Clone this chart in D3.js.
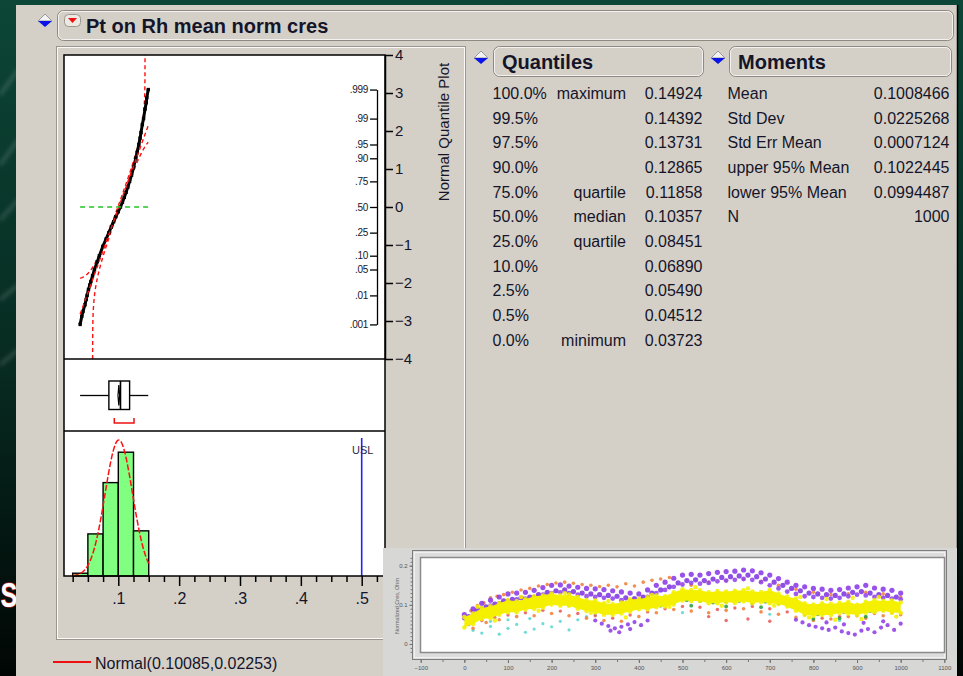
<!DOCTYPE html>
<html>
<head>
<meta charset="utf-8">
<script src="https://cdn.jsdelivr.net/npm/d3@7"></script>
<style>
  html, body { margin: 0; padding: 0; background: #062a22; overflow: hidden; }
  svg { display: block; }
</style>
</head>
<body>
<svg id="chart" width="963" height="676"></svg>
<script>
// ---------- Distribution summary: Pt on Rh mean norm cres ----------
const fitMean = 0.10085;
const fitSd = 0.02253;
const nObs = 1000;
const lillieforsD = 0.028;           // 95% band half-width used for the quantile plot
const uslValue = 0.5;

// Histogram bins and counts
const binEdges = [0.025, 0.05, 0.075, 0.1, 0.125, 0.15];
const binCounts = [9, 137, 304, 403, 147];

// Quantiles table
const quantileLevels = ["100.0%", "99.5%", "97.5%", "90.0%", "75.0%", "50.0%", "25.0%", "10.0%", "2.5%", "0.5%", "0.0%"];
const quantileNames  = ["maximum", "", "", "", "quartile", "median", "quartile", "", "", "", "minimum"];
const quantileValues = [0.14924, 0.14392, 0.13731, 0.12865, 0.11858, 0.10357, 0.08451, 0.06890, 0.05490, 0.04512, 0.03723];

// Moments table
const momentNames  = ["Mean", "Std Dev", "Std Err Mean", "upper 95% Mean", "lower 95% Mean", "N"];
const momentValues = [0.1008466, 0.0225268, 0.0007124, 0.1022445, 0.0994487, 1000];

// Ordered data for the normal quantile plot (cumulative probability, value)
const qpProb  = [0.001, 0.002, 0.003, 0.005, 0.0075, 0.01, 0.015, 0.02, 0.025, 0.035, 0.05, 0.075, 0.1, 0.15, 0.2, 0.25, 0.3, 0.35, 0.4, 0.45, 0.5,
                 0.55, 0.6, 0.65, 0.7, 0.75, 0.8, 0.85, 0.9, 0.925, 0.95, 0.965, 0.975, 0.985, 0.99, 0.995, 0.997, 0.998, 0.999];
const qpValue = [0.03723, 0.0400, 0.0420, 0.04512, 0.0472, 0.0487, 0.0510, 0.0531, 0.05490, 0.0577, 0.0608, 0.0654, 0.06890, 0.0746, 0.0800, 0.08451,
                 0.0885, 0.0924, 0.0960, 0.0998, 0.10357, 0.1068, 0.1098, 0.1128, 0.1157, 0.11858, 0.1218, 0.1250, 0.12865, 0.1310, 0.1337, 0.1358,
                 0.13731, 0.1395, 0.1415, 0.14392, 0.1460, 0.1468, 0.14924];

// Shortest half interval of the box plot
const shortestHalf = [0.0934, 0.1258];

// Axis ticks
const zTicks = [-4, -3, -2, -1, 0, 1, 2, 3, 4];
const probTicks  = [0.001, 0.01, 0.05, 0.10, 0.25, 0.50, 0.75, 0.90, 0.95, 0.99, 0.999];
const probLabels = [".001", ".01", ".05", ".10", ".25", ".50", ".75", ".90", ".95", ".99", ".999"];
const histMajorTicks  = [0.1, 0.2, 0.3, 0.4, 0.5];
const histMajorLabels = [".1", ".2", ".3", ".4", ".5"];
const histMinorTicks  = [0.025, 0.05, 0.075, 0.125, 0.15, 0.175, 0.225, 0.25, 0.275, 0.325, 0.35, 0.375, 0.425, 0.45, 0.475, 0.525];

// ---------- Run chart thumbnail (normalized Cres vs sample) ----------
const insetXTicks = [-100, 0, 100, 200, 300, 400, 500, 600, 700, 800, 900, 1000, 1100];
const insetYTicks = [0, 0.1, 0.2];
const insetX  = [0,20,40,60,80,100,120,140,160,180,200,220,240,260,280,300,320,340,360,380,400,420,440,460,480,500,
                 520,540,560,580,600,620,640,660,680,700,720,740,760,780,800,820,840,860,880,900,920,940,960,980,1000];
const insetXB = [10,30,50,70,90,110,130,150,170,190,210,230,250,270,290,310,330,350,370,390,410,430,450,470,490,
                 510,530,550,570,590,610,630,650,670,690,710,730,750,770,790,810,830,850,870,890,910,930,950,970,990];
const yellowHi = [.069,.078,.092,.096,.104,.112,.109,.114,.122,.124,.129,.124,.126,.120,.112,.111,.104,.102,.106,.114,.115,.119,.124,.122,.132,.140,
                  .138,.137,.132,.135,.134,.136,.137,.134,.133,.138,.129,.121,.116,.104,.101,.104,.103,.105,.108,.100,.108,.112,.110,.111,.106];
const yellowLo = [.042,.051,.064,.066,.075,.081,.081,.088,.090,.093,.101,.098,.098,.090,.084,.081,.075,.075,.078,.083,.089,.088,.094,.096,.101,.111,
                  .110,.110,.104,.104,.107,.105,.109,.104,.107,.104,.102,.096,.085,.075,.072,.074,.074,.079,.077,.074,.080,.081,.085,.080,.080];
const yellowSpikes = [[30,.095],[70,.060],[130,.120],[170,.085],[230,.130],[290,.080],[330,.110],[370,.068],[430,.125],[470,.095],[530,.145],
                      [590,.098],[650,.142],[710,.098],[770,.120],[790,.068],[830,.115],[850,.062],[890,.118],[910,.064],[950,.120],[990,.070]];
const purpleHi = [.075,.090,.104,.112,.120,.128,.130,.132,.137,.144,.150,.151,.148,.145,.142,.141,.139,.136,.133,.130,.128,.138,.150,.158,.168,.176,
                  .178,.176,.180,.183,.185,.186,.189,.187,.182,.176,.167,.158,.150,.146,.142,.140,.137,.139,.143,.146,.150,.143,.140,.137,.130];
const purpleMid = [.070,.088,.095,.102,.110,.114,.118,.120,.126,.132,.136,.138,.134,.130,.128,.126,.124,.122,.118,.116,.120,.130,.138,.146,.156,
                   .162,.164,.162,.166,.170,.172,.174,.176,.172,.166,.158,.150,.142,.136,.130,.128,.126,.124,.128,.132,.134,.130,.126,.124,.120];
const purpleInner = [.066,.082,.090,.098,.104,.110,.114,.116,.120,.126,.130,.132,.130,.126,.122,.120,.118,.116,.112,.110,.112,.120,.130,.138,.146,.152,
                     .156,.154,.156,.160,.162,.164,.166,.164,.158,.150,.142,.134,.128,.122,.120,.118,.116,.118,.122,.126,.124,.120,.118,.116,.114];
const purpleLow = [[300,.060],[315,.052],[330,.046],[345,.040],[360,.044],[375,.050],[390,.056],[405,.048],[420,.060],[335,.034],[355,.030],[380,.038],
                   [760,.062],[775,.055],[790,.048],[805,.044],[820,.040],[835,.036],[850,.042],[865,.032],[880,.028],[895,.024],[910,.034],[925,.038],
                   [940,.030],[955,.042],[970,.048],[985,.036],[1000,.052],[830,.055],[870,.050],[915,.054],[960,.058]];
const orangePts = [[0,.068],[15,.085],[30,.098],[45,.105],[60,.118],[75,.122],[90,.126],[110,.132],[130,.138],[150,.142],[170,.148],[190,.152],
                   [210,.156],[230,.158],[250,.155],[270,.152],[290,.150],[310,.147],[330,.150],[350,.146],[370,.154],[390,.148],[410,.158],[430,.163],
                   [450,.166],[470,.170],[520,.150],[560,.158],[600,.162],[640,.166],[680,.160],[720,.150],[760,.140],[800,.132],[840,.126],[880,.128],
                   [920,.132],[960,.128],[1000,.120],[20,.040],[50,.055],[80,.062],[120,.070],[160,.072],[200,.078],[240,.072],[280,.066],[320,.060],
                   [360,.058],[400,.070],[440,.080],[480,.088],[520,.084],[560,.080],[600,.086],[640,.090],[680,.082],[720,.076],[760,.068],[800,.060],
                   [840,.064],[880,.070],[920,.066],[960,.072],[1000,.075]];
const redPts = [[10,.050],[40,.060],[70,.068],[100,.074],[140,.080],[180,.086],[220,.084],[260,.078],[300,.072],[340,.066],[380,.074],[420,.082],
                [460,.090],[500,.096],[540,.094],[580,.088],[620,.092],[660,.096],[700,.090],[740,.082],[780,.074],[820,.066],[860,.070],[900,.072],
                [940,.078],[980,.080],[600,.060],[650,.064],[700,.058],[560,.070]];
const greenPts = [[5,.060],[30,.070],[60,.078],[90,.086],[120,.090],[150,.094],[180,.100],[210,.104],[240,.100],[270,.094],[300,.088],[330,.082],
                  [360,.086],[390,.092],[420,.096],[450,.098],[480,.106],[510,.112],[540,.110],[570,.106],[600,.108],[630,.110],[660,.104],[690,.108],
                  [720,.104],[750,.096],[780,.084],[810,.076],[840,.080],[870,.082],[900,.078],[930,.084],[960,.088],[990,.086],[520,.098],[600,.096],
                  [680,.094],[800,.064],[860,.066],[920,.070]];
const cyanPts = [[20,.035],[40,.028],[60,.045],[80,.025],[100,.040],[120,.050],[140,.030],[160,.038],[180,.052],[200,.044],[220,.058],[240,.036],
                 [260,.062],[280,.070],[150,.065],[100,.062],[60,.058],[300,.075],[500,.080],[700,.076],[860,.060],[920,.068]];

// ---------- helpers ----------
function normCdf(z) {
  const t = 1 / (1 + 0.2316419 * Math.abs(z));
  const d = 0.3989422804014327 * Math.exp(-z * z / 2);
  const p = d * t * (0.3193815 + t * (-0.3565638 + t * (1.781478 + t * (-1.821256 + t * 1.330274))));
  return z > 0 ? 1 - p : p;
}
function probit(p) {
  const a = [-3.969683028665376e+01, 2.209460984245205e+02, -2.759285104469687e+02, 1.383577518672690e+02, -3.066479806614716e+01, 2.506628277459239e+00];
  const b = [-5.447609879822406e+01, 1.615858368580409e+02, -1.556989798598866e+02, 6.680131188771972e+01, -1.328068155288572e+01];
  const c = [-7.784894002430293e-03, -3.223964580411365e-01, -2.400758277161838e+00, -2.549732539343734e+00, 4.374664141464968e+00, 2.938163982698783e+00];
  const d = [7.784695709041462e-03, 3.224671290700398e-01, 2.445134137142996e+00, 3.754408661907416e+00];
  const pl = 0.02425;
  if (p < pl) {
    const q = Math.sqrt(-2 * Math.log(p));
    return (((((c[0]*q+c[1])*q+c[2])*q+c[3])*q+c[4])*q+c[5]) / ((((d[0]*q+d[1])*q+d[2])*q+d[3])*q+1);
  }
  if (p <= 1 - pl) {
    const q = p - 0.5, r = q * q;
    return (((((a[0]*r+a[1])*r+a[2])*r+a[3])*r+a[4])*r+a[5])*q / (((((b[0]*r+b[1])*r+b[2])*r+b[3])*r+b[4])*r+1);
  }
  const q = Math.sqrt(-2 * Math.log(1 - p));
  return -(((((c[0]*q+c[1])*q+c[2])*q+c[3])*q+c[4])*q+c[5]) / ((((d[0]*q+d[1])*q+d[2])*q+d[3])*q+1);
}

const FONT = "'Liberation Sans', Arial, sans-serif";
const INK = "#15152a";
const PANEL = "#d4d0c8";

const svg = d3.select("#chart");
const defs = svg.append("defs");

// ---------- slide background ----------
const bgGrad = defs.append("linearGradient").attr("id", "bgGrad").attr("x1", 0).attr("y1", 0).attr("x2", 0).attr("y2", 1);
bgGrad.append("stop").attr("offset", "0%").attr("stop-color", "#0c4636");
bgGrad.append("stop").attr("offset", "55%").attr("stop-color", "#072a21");
bgGrad.append("stop").attr("offset", "100%").attr("stop-color", "#010604");
svg.append("rect").attr("width", 963).attr("height", 676).attr("fill", "url(#bgGrad)");

const streakBlur = defs.append("filter").attr("id", "streak").attr("x", "-50%").attr("y", "-50%").attr("width", "200%").attr("height", "200%");
streakBlur.append("feGaussianBlur").attr("stdDeviation", 2);
const streaks = [[0, 95, 18, 70], [0, 165, 18, 140], [0, 220, 18, 200], [0, 300, 18, 285], [0, 365, 18, 350]];
svg.append("g").attr("filter", "url(#streak)").selectAll("line").data(streaks).join("line")
  .attr("x1", d => d[0]).attr("y1", d => d[1]).attr("x2", d => d[2]).attr("y2", d => d[3])
  .attr("stroke", "#ffffff").attr("stroke-opacity", 0.18).attr("stroke-width", 3);

// slide title letter peeking out on the left
svg.append("text").attr("transform", "translate(0.5,607) scale(0.7,1)")
  .attr("font-family", FONT).attr("font-size", 36).attr("font-weight", "bold")
  .attr("fill", "#ffffff").attr("stroke", "#b02020").attr("stroke-width", 1.6).attr("paint-order", "stroke")
  .text("S");

// ---------- report window ----------
svg.append("rect").attr("x", 16).attr("y", 5).attr("width", 941).attr("height", 676).attr("fill", PANEL);
svg.append("line").attr("x1", 957.5).attr("x2", 957.5).attr("y1", 5).attr("y2", 676).attr("stroke", "#000").attr("stroke-width", 1.5);

function outlineBox(x, y, w, h, r) {
  svg.append("rect").attr("x", x + 0.5).attr("y", y + 0.5).attr("width", w).attr("height", h).attr("rx", r)
    .attr("fill", PANEL).attr("stroke", "#8e8a82");
  svg.append("rect").attr("x", x + 1.5).attr("y", y + 1.5).attr("width", w - 2).attr("height", h - 2).attr("rx", Math.max(r - 1, 0))
    .attr("fill", "none").attr("stroke", "#f4f2ee");
}
function disclosure(cx, cy) {
  svg.append("path").attr("d", `M${cx - 7},${cy} L${cx},${cy - 7} L${cx + 7},${cy} Z`)
    .attr("fill", "#f2f2f2").attr("stroke", "#9a9a9a");
  svg.append("path").attr("d", `M${cx - 7},${cy} L${cx + 7},${cy} L${cx},${cy + 6} Z`).attr("fill", "#0a14e6");
}

// title bar
outlineBox(57, 10, 896, 30, 6);
disclosure(45, 21);
svg.append("rect").attr("x", 64.5).attr("y", 14.5).attr("width", 16).attr("height", 12).attr("rx", 4)
  .attr("fill", "#ece9e3").attr("stroke", "#9a968e");
svg.append("path").attr("d", "M68,18 L77,18 L72.5,23 Z").attr("fill", "#ee1010");
svg.append("text").attr("x", 86).attr("y", 33).attr("font-family", FONT).attr("font-weight", "bold")
  .attr("font-size", 20).attr("fill", INK).text("Pt on Rh mean norm cres");

// distribution outline (graphs)
svg.append("rect").attr("x", 56.5).attr("y", 46.5).attr("width", 409).attr("height", 593).attr("fill", "none").attr("stroke", "#9a968e");
svg.append("rect").attr("x", 57.5).attr("y", 47.5).attr("width", 407).attr("height", 591).attr("fill", "none").attr("stroke", "#fbfaf8");

// ---------- scales ----------
const xVal = d3.scaleLinear().domain([0.01076, 0.53829]).range([64, 385]);
const zScale = d3.scaleLinear().domain([-4, 4]).range([359, 55]);
const histY = d3.scaleLinear().domain([0, 472]).range([576, 431]);

const dataMin = quantileValues[10], dataMax = quantileValues[0];
const q1 = quantileValues[6], median = quantileValues[5], q3 = quantileValues[4];

// ---------- plot frames ----------
const frameL = 64, frameR = 385;
svg.append("rect").attr("x", frameL).attr("y", 55).attr("width", frameR - frameL).attr("height", 521).attr("fill", "#ffffff");

// ---------- normal quantile plot ----------
const qp = svg.append("g");
const clipQ = defs.append("clipPath").attr("id", "clipQ");
clipQ.append("rect").attr("x", frameL).attr("y", 55).attr("width", frameR - frameL).attr("height", 304);
const qpClip = qp.append("g").attr("clip-path", "url(#clipQ)");

const zLine = d3.line().x(d => xVal(d[0])).y(d => zScale(d[1]));

// confidence bands
const bandA = [], bandB = [];
for (let i = 0; i <= 1600; i++) {
  const y = -4 + i * 0.005;
  const pa = normCdf(y) - lillieforsD;
  if (pa > 0) {
    const xv = fitMean + fitSd * probit(pa);
    if (xv >= dataMin && xv <= dataMax) bandA.push([xv, y]);
  }
  const pb = normCdf(y) + lillieforsD;
  if (pb < 1) {
    const xv = fitMean + fitSd * probit(pb);
    if (xv >= dataMin && xv <= dataMax) bandB.push([xv, y]);
  }
}
[bandA, bandB].forEach(b => {
  qpClip.append("path").attr("d", zLine(b)).attr("fill", "none").attr("stroke", "#ff1010")
    .attr("stroke-width", 1.4).attr("stroke-dasharray", "4,3");
});

// points
const qpPts = qpValue.map((v, i) => [v, probit(qpProb[i])]);
qpClip.append("path").attr("d", zLine(qpPts)).attr("fill", "none").attr("stroke", "#000").attr("stroke-width", 3);
qpClip.selectAll("rect.pt").data(qpPts).join("rect").attr("class", "pt")
  .attr("x", d => xVal(d[0]) - 1.7).attr("y", d => zScale(d[1]) - 1.7).attr("width", 3.4).attr("height", 3.4).attr("fill", "#000");

// fitted line and median reference
qpClip.append("path").attr("d", zLine([[dataMin, (dataMin - fitMean) / fitSd], [dataMax, (dataMax - fitMean) / fitSd]]))
  .attr("fill", "none").attr("stroke", "#ff1010").attr("stroke-width", 1.4).attr("stroke-dasharray", "4,3");
qpClip.append("path").attr("d", zLine([[dataMin, 0], [dataMax, 0]]))
  .attr("fill", "none").attr("stroke", "#22c422").attr("stroke-width", 1.5).attr("stroke-dasharray", "5,4");

// normal quantile axis
const zAxis = qp.append("g").attr("transform", `translate(${frameR},0)`)
  .call(d3.axisRight(zScale).tickValues(zTicks).tickSize(8).tickSizeOuter(0).tickPadding(2));
zAxis.attr("font-family", FONT).attr("font-size", 15);
zAxis.selectAll("path,line").attr("stroke", "#000").attr("stroke-width", 1.5);
zAxis.selectAll("text").attr("fill", INK);

// probability axis
const probScale = zScale.copy().domain([probit(0.001), probit(0.999)]).range([zScale(probit(0.001)), zScale(probit(0.999))]);
const pAxis = qp.append("g").attr("transform", "translate(377,0)")
  .call(d3.axisLeft(probScale).tickValues(probTicks.map(probit)).tickFormat((d, i) => probLabels[i])
    .tickSize(7).tickSizeOuter(0).tickPadding(2));
pAxis.attr("font-family", FONT).attr("font-size", 10);
pAxis.selectAll("path,line").attr("stroke", "#000").attr("stroke-width", 1.3);
pAxis.selectAll("text").attr("fill", INK).attr("letter-spacing", -0.3);

svg.append("text").attr("transform", "translate(449,132) rotate(-90)").attr("text-anchor", "middle")
  .attr("font-family", FONT).attr("font-size", 15).attr("fill", INK).text("Normal Quantile Plot");

// ---------- outlier box plot ----------
const boxG = svg.append("g");
const boxCy = 395.5, boxTop = 381, boxBot = 409.5;
boxG.append("line").attr("x1", xVal(dataMin)).attr("x2", xVal(q1)).attr("y1", boxCy).attr("y2", boxCy).attr("stroke", "#000").attr("stroke-width", 1.3);
boxG.append("line").attr("x1", xVal(q3)).attr("x2", xVal(dataMax)).attr("y1", boxCy).attr("y2", boxCy).attr("stroke", "#000").attr("stroke-width", 1.3);
boxG.append("rect").attr("x", xVal(q1)).attr("y", boxTop).attr("width", xVal(q3) - xVal(q1)).attr("height", boxBot - boxTop)
  .attr("fill", "#fff").attr("stroke", "#000").attr("stroke-width", 1.4);
boxG.append("line").attr("x1", xVal(median)).attr("x2", xVal(median)).attr("y1", boxTop).attr("y2", boxBot).attr("stroke", "#000").attr("stroke-width", 1.6);
boxG.append("path")
  .attr("d", `M${xVal(momentValues[4])},${boxCy} L${xVal(momentValues[0])},${boxTop + 4} L${xVal(momentValues[3])},${boxCy} L${xVal(momentValues[0])},${boxBot - 4} Z`)
  .attr("fill", "none").attr("stroke", "#000").attr("stroke-width", 1.2);
boxG.append("path").attr("d", `M${xVal(shortestHalf[0])},418 V423 H${xVal(shortestHalf[1])} V418`)
  .attr("fill", "none").attr("stroke", "#ee1010").attr("stroke-width", 1.5);

// ---------- histogram ----------
const histG = svg.append("g");
const bins = binCounts.map((c, i) => ({ x0: binEdges[i], x1: binEdges[i + 1], count: c }));
histG.selectAll("rect.bar").data(bins).join("rect").attr("class", "bar")
  .attr("x", d => xVal(d.x0)).attr("y", d => histY(d.count))
  .attr("width", d => xVal(d.x1) - xVal(d.x0)).attr("height", d => histY(0) - histY(d.count))
  .attr("fill", "#80ff80").attr("stroke", "#000").attr("stroke-width", 1.4);

const binW = binEdges[1] - binEdges[0];
const curve = d3.range(binEdges[0], binEdges[binEdges.length - 1] + 1e-9, 0.001).map(x => {
  const z = (x - fitMean) / fitSd;
  return [x, nObs * binW * Math.exp(-z * z / 2) / (fitSd * Math.sqrt(2 * Math.PI))];
});
histG.append("path").attr("d", d3.line().x(d => xVal(d[0])).y(d => histY(d[1]))(curve))
  .attr("fill", "none").attr("stroke", "#ff1010").attr("stroke-width", 1.5).attr("stroke-dasharray", "6,2");

histG.append("line").attr("x1", xVal(uslValue)).attr("x2", xVal(uslValue)).attr("y1", 438).attr("y2", 576)
  .attr("stroke", "#2222ff").attr("stroke-width", 1.6);
histG.append("text").attr("x", xVal(uslValue) + 1).attr("y", 454).attr("text-anchor", "middle")
  .attr("font-family", FONT).attr("font-size", 11).attr("fill", "#2a2a48").text("USL");

// histogram axis
const hMinor = svg.append("g").attr("transform", "translate(0,576)")
  .call(d3.axisBottom(xVal).tickValues(histMinorTicks).tickSize(6).tickSizeOuter(0).tickFormat(""));
hMinor.select(".domain").remove();
hMinor.selectAll("line").attr("stroke", "#000").attr("stroke-width", 1.5);
const hMajor = svg.append("g").attr("transform", "translate(0,576)")
  .call(d3.axisBottom(xVal).tickValues(histMajorTicks).tickFormat((d, i) => histMajorLabels[i]).tickSize(10).tickSizeOuter(0).tickPadding(7));
hMajor.select(".domain").remove();
hMajor.attr("font-family", FONT).attr("font-size", 16);
hMajor.selectAll("line").attr("stroke", "#000").attr("stroke-width", 1.5);
hMajor.selectAll("text").attr("fill", INK);

// frame borders on top
const frameG = svg.append("g").attr("fill", "none").attr("stroke", "#000").attr("stroke-width", 1.5);
frameG.append("rect").attr("x", frameL).attr("y", 55).attr("width", frameR - frameL).attr("height", 521);
frameG.append("line").attr("x1", frameL).attr("x2", frameR).attr("y1", 359).attr("y2", 359);
frameG.append("line").attr("x1", frameL).attr("x2", frameR).attr("y1", 431).attr("y2", 431);

// legend
svg.append("line").attr("x1", 53).attr("x2", 91).attr("y1", 662).attr("y2", 662).attr("stroke", "#ee1010").attr("stroke-width", 1.8);
svg.append("text").attr("x", 95).attr("y", 668.5).attr("font-family", FONT).attr("font-size", 16).attr("fill", INK)
  .text(`Normal(${fitMean.toFixed(5)},${fitSd.toFixed(5)})`);

// ---------- Quantiles table ----------
disclosure(481, 58);
outlineBox(493, 46, 210, 30, 6);
svg.append("text").attr("x", 502).attr("y", 68.5).attr("font-family", FONT).attr("font-weight", "bold")
  .attr("font-size", 20).attr("fill", INK).text("Quantiles");
const rowY = i => 99 + i * 24.67;
const qTable = svg.append("g").attr("font-family", FONT).attr("font-size", 16).attr("fill", INK);
qTable.selectAll("text.lvl").data(quantileLevels).join("text").attr("class", "lvl")
  .attr("x", 492.5).attr("y", (d, i) => rowY(i)).text(d => d);
qTable.selectAll("text.nm").data(quantileNames).join("text").attr("class", "nm")
  .attr("x", 626).attr("y", (d, i) => rowY(i)).attr("text-anchor", "end").text(d => d);
qTable.selectAll("text.val").data(quantileValues).join("text").attr("class", "val")
  .attr("x", 702.5).attr("y", (d, i) => rowY(i)).attr("text-anchor", "end").text(d => d.toFixed(5));

// ---------- Moments table ----------
disclosure(718, 58);
outlineBox(729, 46, 222, 30, 6);
svg.append("text").attr("x", 738).attr("y", 68.5).attr("font-family", FONT).attr("font-weight", "bold")
  .attr("font-size", 20).attr("fill", INK).text("Moments");
const mTable = svg.append("g").attr("font-family", FONT).attr("font-size", 16).attr("fill", INK);
mTable.selectAll("text.nm").data(momentNames).join("text").attr("class", "nm")
  .attr("x", 727.5).attr("y", (d, i) => rowY(i)).text(d => d);
mTable.selectAll("text.val").data(momentValues).join("text").attr("class", "val")
  .attr("x", 949.5).attr("y", (d, i) => rowY(i)).attr("text-anchor", "end")
  .text((d, i) => momentNames[i] === "N" ? String(d) : d.toFixed(7));

// ---------- run chart thumbnail ----------
const inset = svg.append("g");
inset.append("rect").attr("x", 383).attr("y", 548).attr("width", 574).attr("height", 130).attr("fill", "#d7d7d5");
inset.append("rect").attr("x", 412.5).attr("y", 550.5).attr("width", 534).attr("height", 109).attr("fill", "#dcdcdc").attr("stroke", "#7c7c7c");
inset.append("rect").attr("x", 414.5).attr("y", 552.5).attr("width", 530).attr("height", 105).attr("fill", "none").attr("stroke", "#f0f0f0");
inset.append("rect").attr("x", 420.5).attr("y", 557.5).attr("width", 524).attr("height", 95).attr("fill", "#ffffff").attr("stroke", "#8a8a8a").attr("stroke-width", 1.5);

const ix = d3.scaleLinear().domain([-100, 1100]).range([420.7, 944.3]);
const iy = d3.scaleLinear().domain([0, 0.2]).range([644, 565.7]);

const soft = defs.append("filter").attr("id", "soft");
soft.append("feGaussianBlur").attr("stdDeviation", 0.55);
const clipI = defs.append("clipPath").attr("id", "clipI");
clipI.append("rect").attr("x", 421).attr("y", 558).attr("width", 523).attr("height", 94);

const dots = inset.append("g").attr("clip-path", "url(#clipI)").append("g").attr("filter", "url(#soft)");
function cloud(pts, color, r) {
  dots.append("g").selectAll("circle").data(pts).join("circle")
    .attr("cx", d => ix(d[0])).attr("cy", d => iy(d[1])).attr("r", r)
    .attr("fill", color).attr("fill-opacity", 0.88);
}
cloud(cyanPts, "#5fd6cf", 1.6);
cloud(redPts, "#e85a5a", 1.7);
cloud(orangePts, "#f0803a", 1.8);
cloud(greenPts, "#2e9e3e", 1.9);
cloud(purpleLow, "#8e3fe6", 2.1);
cloud(purpleHi.map((v, i) => [insetX[i], v]), "#8b3ae8", 2.6);
cloud(purpleMid.map((v, i) => [insetXB[i], v]), "#7f34e0", 2.6);
cloud(purpleInner.map((v, i) => [insetX[i], v]), "#9244ea", 2.4);
dots.append("path")
  .attr("d", d3.area().x((d, i) => ix(insetX[i])).y0((d, i) => iy(yellowLo[i])).y1((d, i) => iy(yellowHi[i]))(insetX))
  .attr("fill", "#f4f000");
cloud(yellowHi.map((v, i) => [insetX[i], v]), "#f4f000", 2.3);
cloud(yellowLo.map((v, i) => [insetX[i], v]), "#f4f000", 2.3);
cloud(yellowSpikes, "#f4f000", 2.2);

// thumbnail axes
const ixAxis = inset.append("g").attr("transform", "translate(0,660)")
  .call(d3.axisBottom(ix).tickValues(insetXTicks).tickSize(3).tickSizeOuter(0).tickPadding(3).tickFormat(d3.format("d")));
ixAxis.select(".domain").remove();
ixAxis.attr("font-family", FONT).attr("font-size", 6);
ixAxis.selectAll("line").attr("stroke", "#666");
ixAxis.selectAll("text").attr("fill", "#555");
const ixMinor = inset.append("g").attr("transform", "translate(0,660)")
  .call(d3.axisBottom(ix).ticks(24).tickSize(2).tickFormat(""));
ixMinor.select(".domain").remove();
ixMinor.selectAll("line").attr("stroke", "#777");

const iyAxis = inset.append("g").attr("transform", "translate(412.5,0)")
  .call(d3.axisLeft(iy).tickValues(insetYTicks).tickSize(3).tickSizeOuter(0).tickPadding(2).tickFormat(d3.format("")));
iyAxis.select(".domain").remove();
iyAxis.attr("font-family", FONT).attr("font-size", 6);
iyAxis.selectAll("line").attr("stroke", "#666");
iyAxis.selectAll("text").attr("fill", "#555");
const iyMinor = inset.append("g").attr("transform", "translate(412.5,0)")
  .call(d3.axisLeft(iy.copy().domain([-0.02, 0.22]).range([iy(-0.02), iy(0.22)])).ticks(25).tickSize(2).tickFormat(""));
iyMinor.select(".domain").remove();
iyMinor.selectAll("line").attr("stroke", "#777");

inset.append("text").attr("transform", "translate(399,606) rotate(-90)").attr("text-anchor", "middle")
  .attr("font-family", FONT).attr("font-size", 5.5).attr("fill", "#666").text("Normalized Cres, Ohm");
</script>
</body>
</html>
